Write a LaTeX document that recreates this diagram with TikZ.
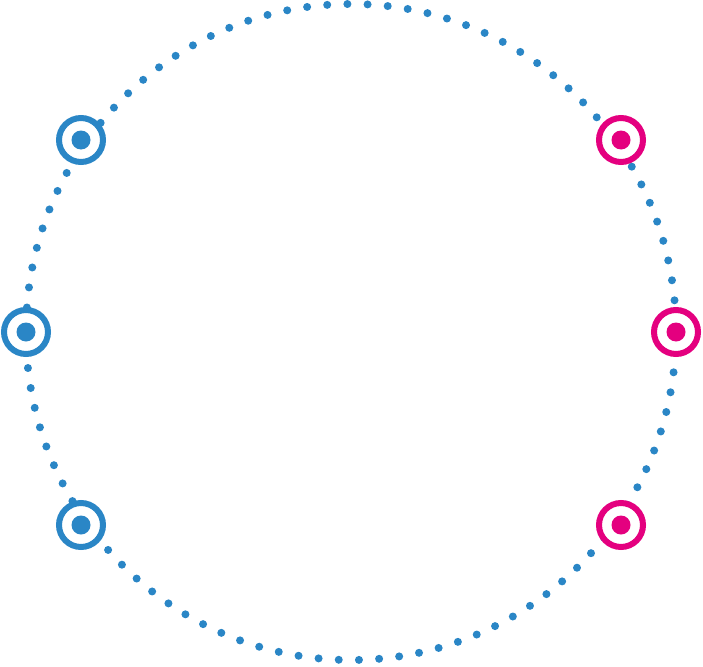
\documentclass[tikz,border=0pt]{standalone}
\definecolor{cblue}{HTML}{2A86C6}
\definecolor{cpink}{HTML}{E4007F}
\begin{document}
\begin{tikzpicture}[x=1pt,y=-1pt,
  ring/.style={circle,draw=#1,line width=6pt,fill=white,minimum size=44pt,inner sep=0pt,
    path picture={\fill[#1] (path picture bounding box.center) circle (9.5pt);}}]
\useasboundingbox (0,0) rectangle (703,666);
\draw[cblue,line width=8pt,line cap=round,dash pattern=on 0pt off 20.2pt] (351,332) ellipse [x radius=325,y radius=328];
\node[ring=cblue] (a) at (81,140) {};
\node[ring=cblue] (b) at (26,332) {};
\node[ring=cblue] (c) at (81,525) {};
\node[ring=cpink] (d) at (621,140) {};
\node[ring=cpink] (e) at (676,332) {};
\node[ring=cpink] (f) at (621,525) {};
\end{tikzpicture}
\end{document}
